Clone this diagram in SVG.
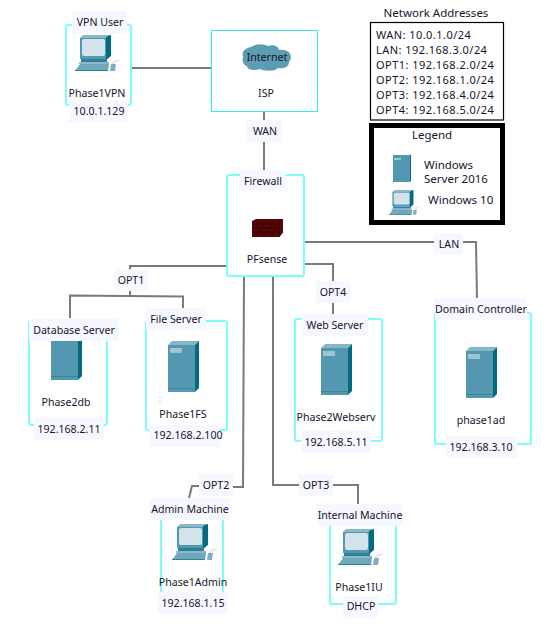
<svg xmlns="http://www.w3.org/2000/svg" width="550" height="627" viewBox="0 0 550 627">
<style>
text{font-family:"Noto Sans","Liberation Sans",sans-serif;font-size:10.600px;fill:#14142a;text-anchor:middle}
.l{text-anchor:start}
.a{font-size:11px;letter-spacing:.45px}
.k{font-size:11.500px}
.box{fill:#fff;stroke:#7ffcfc;stroke-width:2}
.bg{fill:#f7f8ff}
.c{fill:none;stroke:#7a7a7a;stroke-width:2}
</style>
<defs>
<g id="server">
<polygon points="0,4 4,0 31,0 27,4" fill="#85b6c6"/>
<rect x="0" y="4" width="27" height="47" fill="#5398b0"/>
<polygon points="27,4 31,0 31,47 27,51" fill="#046a82"/>
<rect x="2" y="7" width="12" height="5" fill="#9ec6d2"/>
<rect x="0" y="47" width="27" height="1" fill="#3f8198"/>
</g>
<g id="pc">
<polygon points="5,3 8,0 36,0 33,3" fill="#8ab8c8"/>
<rect x="5" y="3" width="28" height="21" fill="#5398b0"/>
<polygon points="31,2 36,0 36,21 31,25" fill="#046a82"/>
<rect x="7" y="4" width="23" height="17" rx="2" fill="#d2e3ea"/>
<rect x="6" y="24" width="26" height="3" fill="#2f7f98"/>
<rect x="4" y="27" width="30" height="2" fill="#8ab8c8"/>
<polygon points="5,29 34,29 33,36 0,36" fill="#6fa8bc"/>
<rect x="0" y="35" width="33" height="1" fill="#2f7f98"/>
<polygon points="36,29 41,29 40,36 35,36" fill="#7fb0c2"/>
<path d="M38,29 C38,25 42,27 44,25" fill="none" stroke="#b5cfd9" stroke-width="1"/>
</g>
</defs>
<g id="connectors">
<path class="c" d="M129,68H211"/>
<path class="c" d="M264,111V175"/>
<path class="c" d="M227,266H130V295"/>
<path class="c" d="M70,318V295.500L183,296.500V308"/>
<path class="c" d="M244,276L243,487H199"/>
<path class="c" d="M199,486H192L189,498"/>
<path class="c" d="M273,276V485H358V504"/>
<path class="c" d="M304,264H333V314"/>
<path class="c" d="M303,242H476L477,298"/>
<g id="wan-label"><rect class="bg" x="246" y="120" width="36" height="22"/><text x="265" y="135">WAN</text></g>
<g id="opt1-label"><rect class="bg" x="114" y="269" width="34" height="22"/><text x="131" y="284">OPT1</text></g>
<g id="opt2-label"><rect class="bg" x="199" y="474" width="34" height="22"/><text x="216" y="489">OPT2</text></g>
<g id="opt3-label"><rect class="bg" x="299" y="474" width="34" height="22"/><text x="316" y="489">OPT3</text></g>
<g id="opt4-label"><rect class="bg" x="316" y="281" width="34" height="22"/><text x="333" y="296">OPT4</text></g>
<g id="lan-label"><rect class="bg" x="434" y="233" width="29" height="22"/><text x="449" y="248">LAN</text></g>
</g>
<g id="vpn-user">
<rect class="box" x="66" y="25" width="65" height="80" rx="2"/>
<rect class="bg" x="72" y="11" width="55" height="22"/>
<text x="100" y="26">VPN User</text>
<use href="#pc" x="75" y="35"/>
<text x="97" y="97">Phase1VPN</text>
<rect class="bg" x="69" y="100" width="59" height="22"/>
<text x="99" y="115">10.0.1.129</text>
</g>
<g id="isp">
<rect x="211.500" y="30.500" width="106" height="81" fill="#fff" stroke="#33eeee"/>
<path d="M243,57C241,50 247,48 251,47C256,43 264,44 268,46C274,44 279,47 279,50C291,48 293,58 289,62C289,68 282,69 278,68C274,72 264,71 260,69C254,71 247,70 247,66C243,65 242,60 243,57Z" fill="#5d9cb2"/>
<text x="267" y="61">Internet</text>
<text x="266" y="97">ISP</text>
</g>
<g id="firewall">
<rect class="box" x="227" y="175" width="77" height="101" rx="2"/>
<rect class="bg" x="240" y="170" width="46" height="20"/>
<text x="263" y="185">Firewall</text>
<polygon points="252,221 256,219 283,219 283,232 279,237 252,237" fill="#5a0606"/>
<path d="M252,224H279M252,228H279M252,232H279M259,221V224M266,221V224M273,221V224M256,224V228M263,224V228M271,224V228M260,228V232M268,228V232M275,228V232M256,232V237M264,232V237M272,232V237M279,221V237L283,232" fill="none" stroke="#2a0000" stroke-width="0.800"/>
<text x="267" y="263">PFsense</text>
</g>
<g id="database-server">
<rect class="box" x="29" y="322" width="78" height="103" rx="2"/>
<use href="#server" x="51" y="329"/>
<rect class="bg" x="29" y="319" width="90" height="22"/>
<text x="74" y="334">Database Server</text>
<text x="66" y="406">Phase2db</text>
<rect class="bg" x="34" y="418" width="70" height="22"/>
<text x="69" y="433">192.168.2.11</text>
</g>
<g id="file-server">
<rect class="box" x="146" y="321" width="81" height="109" rx="2"/>
<rect class="bg" x="146" y="308" width="60" height="22"/>
<text x="176" y="323">File Server</text>
<use href="#server" x="168" y="341"/>
<path d="M160,397v1M160,401v1" stroke="#e8a020" fill="none"/>
<text x="183" y="418">Phase1FS</text>
<rect class="bg" x="149" y="425" width="71" height="22"/>
<text x="188" y="439">192.168.2.100</text>
</g>
<g id="web-server">
<rect class="box" x="295" y="319" width="87" height="122" rx="2"/>
<rect class="bg" x="302" y="314" width="66" height="22"/>
<text x="335" y="329">Web Server</text>
<use href="#server" x="321" y="344"/>
<text x="336" y="421">Phase2Webserv</text>
<rect class="bg" x="301" y="431" width="70" height="22"/>
<text x="336" y="446">192.168.5.11</text>
</g>
<g id="domain-controller">
<rect class="box" x="435" y="313" width="96" height="131" rx="2"/>
<rect class="bg" x="435" y="298" width="92" height="22"/>
<text x="481" y="313">Domain Controller</text>
<use href="#server" x="466" y="347"/>
<text x="481" y="424">phase1ad</text>
<rect class="bg" x="446" y="436" width="71" height="22"/>
<text x="481" y="451">192.168.3.10</text>
</g>
<g id="admin-machine">
<rect class="box" x="161" y="510" width="62" height="92"/>
<rect class="bg" x="149" y="498" width="81" height="22"/>
<text x="190" y="513">Admin Machine</text>
<use href="#pc" x="172" y="524"/>
<text x="193" y="586">Phase1Admin</text>
<rect class="bg" x="157" y="592" width="71" height="22"/>
<text x="193" y="607">192.168.1.15</text>
</g>
<g id="internal-machine">
<rect class="box" x="330" y="515" width="66" height="89" rx="2"/>
<rect class="bg" x="317" y="504" width="86" height="22"/>
<text x="360" y="519">Internal Machine</text>
<use href="#pc" x="338" y="529"/>
<text x="359" y="591">Phase1IU</text>
<rect class="bg" x="343" y="596" width="35" height="22"/>
<text x="361" y="610">DHCP</text>
</g>
<g id="network-addresses">
<text class="k" x="436" y="17">Network Addresses</text>
<rect x="370.500" y="22.500" width="133" height="97.500" fill="#fff" stroke="#000" stroke-width="1.200"/>
<text class="l a" x="376" y="39">WAN: 10.0.1.0/24</text>
<text class="l a" x="376" y="54">LAN: 192.168.3.0/24</text>
<text class="l a" x="376" y="69">OPT1: 192.168.2.0/24</text>
<text class="l a" x="376" y="84">OPT2: 192.168.1.0/24</text>
<text class="l a" x="376" y="99">OPT3: 192.168.4.0/24</text>
<text class="l a" x="376" y="114">OPT4: 192.168.5.0/24</text>
</g>
<g id="legend">
<rect x="371.500" y="125.500" width="131" height="97" fill="#fff" stroke="#000" stroke-width="5"/>
<text class="k" x="432" y="139">Legend</text>
<rect x="393" y="155" width="17" height="27" fill="#5398b0"/>
<polygon points="410,155 411,154.500 411,181 410,182" fill="#046a82"/>
<rect x="394" y="158" width="7" height="2" fill="#9ec6d2"/>
<text class="l k" x="424" y="169">Windows</text>
<text class="l k" x="424" y="183">Server 2016</text>
<use href="#pc" transform="translate(389 190) scale(0.680 0.690)"/>
<text class="l k" x="428" y="204">Windows 10</text>
</g>
</svg>
